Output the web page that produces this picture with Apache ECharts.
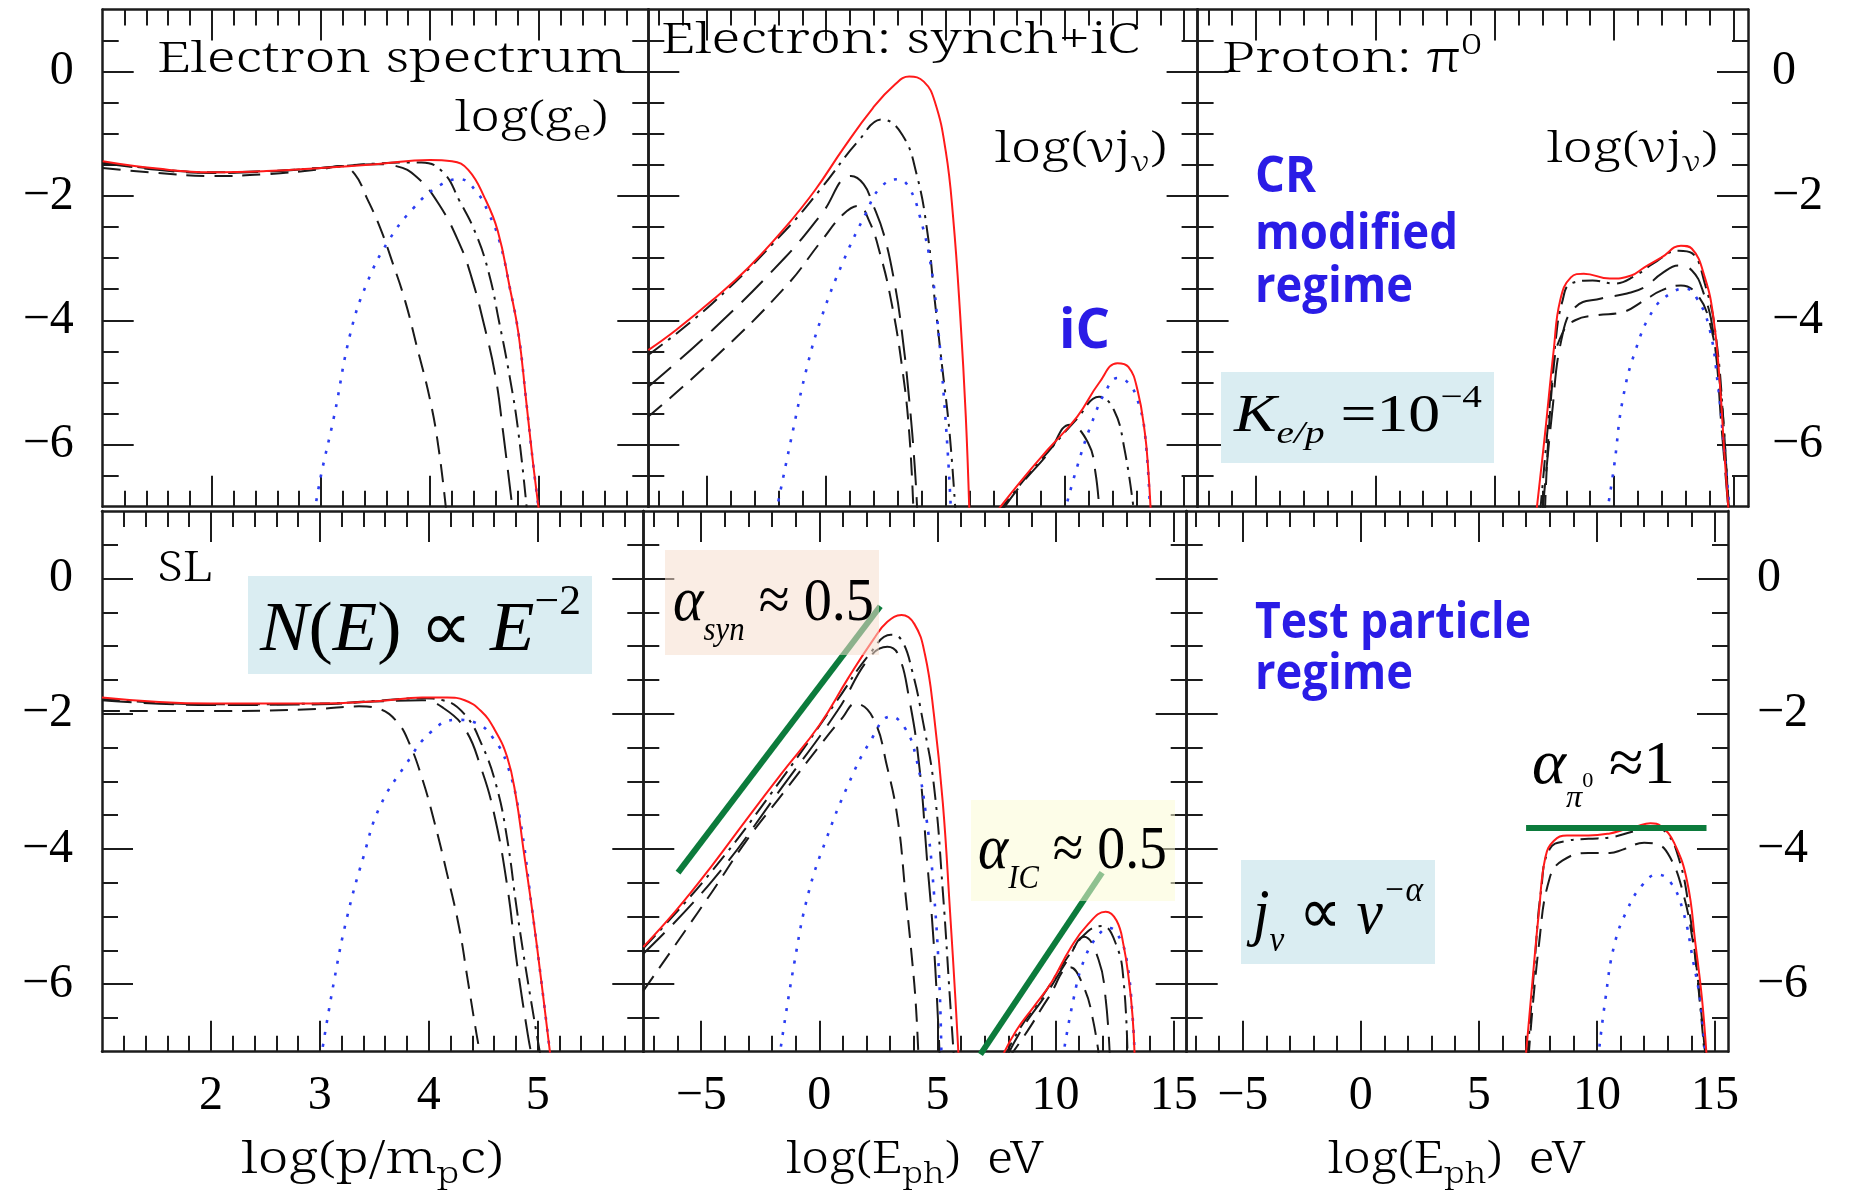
<!DOCTYPE html>
<html>
<head>
<meta charset="utf-8">
<script src="https://cdn.jsdelivr.net/npm/echarts@6/dist/echarts.min.js"></script>
<style>
html,body{margin:0;padding:0;background:#fff}
#chart{width:1852px;height:1194px}
</style>
</head>
<body>
<div id="chart"></div>
<script>
// ---------------- tick values ----------------
const tickYMajor = [0, -2, -4, -6];
const tickYMinor = [-6.5, -6, -5.5, -5, -4.5, -4, -3.5, -3, -2.5, -2, -1.5, -1, -0.5, 0, 0.5];
const tickPMajor = [2, 3, 4, 5];
const tickPMinor = [1.2, 1.4, 1.6, 1.8, 2.2, 2.4, 2.6, 2.8, 3.2, 3.4, 3.6, 3.8, 4.2, 4.4, 4.6, 4.8, 5.2, 5.4, 5.6, 5.8];
const tickEMajor = [-5, 0, 5, 10, 15];
const tickEMinor = [-7, -6, -4, -3, -2, -1, 1, 2, 3, 4, 6, 7, 8, 9, 11, 12, 13, 14];

// ---------------- CR-modified regime (top row) ----------------
// electron spectrum log(g_e) vs log(p/m_p c)
const tlTotal = [[1,-1.44],[1.5,-1.56],[2,-1.62],[2.5,-1.6],[3,-1.55],[3.5,-1.49],[4.0,-1.42],[4.2,-1.44],[4.35,-1.58],[4.5,-2.03],[4.62,-2.56],[4.73,-3.47],[4.81,-4.21],[4.88,-5.28],[4.94,-6.24],[5.0,-7.1]];
const tlDotted = [[2.94,-7.1],[3.0,-6.5],[3.12,-5.55],[3.27,-4.21],[3.42,-3.41],[3.62,-2.72],[3.85,-2.19],[4.08,-1.84],[4.27,-1.73],[4.42,-1.92],[4.54,-2.29],[4.64,-2.75],[4.73,-3.47],[4.81,-4.21],[4.88,-5.28],[4.94,-6.24],[5.0,-7.1]];
const tlDashA = [[1,-1.55],[1.5,-1.63],[2,-1.68],[2.5,-1.65],[3,-1.57],[3.19,-1.52],[3.31,-1.65],[3.42,-2.03],[3.54,-2.5],[3.65,-3.04],[3.77,-3.68],[3.88,-4.43],[4.0,-5.28],[4.08,-6.08],[4.15,-7.1]];
const tlDashB = [[1,-1.47],[1.5,-1.58],[2,-1.63],[2.5,-1.61],[3,-1.55],[3.5,-1.49],[3.69,-1.52],[3.88,-1.7],[4.08,-2.13],[4.27,-2.77],[4.38,-3.31],[4.5,-4.11],[4.6,-4.91],[4.67,-5.81],[4.76,-7.1]];
const tlDashDot = [[1,-1.46],[1.5,-1.57],[2,-1.62],[2.5,-1.6],[3,-1.55],[3.5,-1.48],[3.92,-1.46],[4.12,-1.62],[4.27,-2.08],[4.42,-2.61],[4.54,-3.25],[4.63,-4.0],[4.73,-4.91],[4.81,-5.81],[4.89,-7.1]];

// electron synchrotron + inverse Compton, log(nu j_nu) vs log(E_ph)
const tmTotal = [[-7.45,-4.48],[-6.3,-4.16],[-4.77,-3.68],[-3.25,-3.15],[-1.72,-2.51],[-0.49,-1.92],[0.73,-1.23],[1.95,-0.59],[2.87,-0.21],[3.48,-0.08],[4.09,-0.16],[4.55,-0.48],[5.01,-1.28],[5.32,-2.35],[5.62,-3.95],[5.85,-5.55],[6.0,-7.1]];
const tmDashDot = [[-7.45,-4.56],[-4.77,-3.73],[-1.72,-2.56],[-0.19,-1.87],[1.34,-1.12],[2.34,-0.77],[3.18,-1.01],[3.79,-1.65],[4.25,-2.61],[4.55,-3.68],[4.86,-4.75],[5.17,-5.81],[5.42,-7.1]];
const tmDashB = [[-7.45,-5.07],[-4.77,-4.16],[-1.72,-2.99],[-0.19,-2.29],[1.04,-1.68],[1.57,-1.81],[1.95,-2.13],[2.41,-2.61],[2.87,-3.41],[3.18,-4.21],[3.48,-5.28],[3.71,-6.35],[3.82,-7.1]];
const tmDashA = [[-7.45,-5.55],[-4.77,-4.64],[-1.72,-3.47],[-0.19,-2.72],[0.73,-2.29],[1.34,-2.16],[1.8,-2.4],[2.26,-2.93],[2.72,-3.68],[3.18,-4.75],[3.48,-5.81],[3.66,-7.1]];
const tmDotted = [[-2.1,-7.1],[-1.41,-5.81],[-0.8,-4.75],[-0.19,-3.95],[0.73,-3.04],[1.65,-2.29],[2.26,-1.87],[3.02,-1.73],[3.48,-1.87],[3.94,-2.35],[4.4,-3.15],[4.71,-4.21],[4.94,-5.28],[5.13,-6.35],[5.23,-7.1]];
const tmIcTotal = [[7.1,-7.1],[8.22,-6.56],[9.29,-6.08],[10.52,-5.55],[11.43,-5.01],[12.2,-4.69],[12.66,-4.75],[13.04,-5.12],[13.35,-5.81],[13.5,-6.45],[13.6,-7.1]];
const tmIcDashDot = [[7.2,-7.1],[8.22,-6.6],[9.29,-6.12],[10.52,-5.58],[11.43,-5.23],[12.05,-5.44],[12.5,-6.08],[12.9,-7.1]];
const tmIcDashB = [[7.3,-7.1],[8.22,-6.62],[9.29,-6.15],[10.22,-5.68],[10.97,-5.97],[11.28,-6.45],[11.45,-7.1]];
const tmIcDotted = [[9.98,-7.1],[10.52,-6.35],[11.13,-5.65],[11.74,-5.12],[12.2,-4.93],[12.66,-5.01],[13.04,-5.28],[13.35,-5.81],[13.57,-7.1]];

// proton pi0-decay emission
const trTotal = [[6.74,-7.1],[7.11,-5.81],[7.47,-4.48],[7.74,-3.68],[8.19,-3.31],[8.73,-3.25],[9.82,-3.33],[10.72,-3.28],[11.27,-3.15],[11.99,-2.99],[12.8,-2.8],[13.26,-2.85],[13.8,-3.31],[14.16,-3.95],[14.43,-5.01],[14.61,-6.08],[14.8,-7.1]];
const trDashDot = [[6.9,-7.1],[7.2,-5.81],[7.56,-4.3],[7.83,-3.7],[8.19,-3.41],[9.1,-3.36],[10.0,-3.41],[10.9,-3.28],[11.63,-3.09],[12.71,-2.88],[13.26,-2.92],[13.8,-3.41],[14.25,-4.21],[14.61,-5.81],[14.8,-7.1]];
const trDashB = [[7.0,-7.1],[7.4,-5.5],[7.8,-4.3],[8.37,-3.79],[9.46,-3.65],[10.54,-3.57],[11.27,-3.47],[11.99,-3.25],[12.71,-3.12],[13.26,-3.2],[13.71,-3.52],[14.16,-4.21],[14.52,-5.81],[14.8,-7.1]];
const trDashA = [[7.1,-7.1],[7.47,-4.75],[7.83,-4.21],[8.37,-4.0],[9.28,-3.92],[10.36,-3.87],[11.27,-3.68],[11.99,-3.52],[12.8,-3.44],[13.44,-3.57],[13.98,-4.0],[14.43,-5.01],[14.7,-6.35],[14.82,-7.1]];
const trDotted = [[9.7,-7.1],[10.0,-6.35],[10.36,-5.28],[10.9,-4.48],[11.63,-3.84],[12.35,-3.57],[12.98,-3.49],[13.44,-3.63],[13.98,-4.11],[14.34,-5.01],[14.61,-6.08],[14.85,-7.1]];

// ---------------- test-particle regime (bottom row) ----------------
const blTotal = [[1,-1.76],[2,-1.85],[2.98,-1.85],[3.55,-1.81],[3.94,-1.76],[4.17,-1.76],[4.33,-1.8],[4.48,-1.96],[4.6,-2.22],[4.72,-2.64],[4.8,-3.22],[4.87,-4.01],[4.95,-4.91],[5.03,-5.91],[5.12,-7.1]];
const blDotted = [[3.01,-7.1],[3.13,-5.96],[3.25,-5.01],[3.4,-4.12],[3.55,-3.38],[3.79,-2.75],[4.02,-2.27],[4.25,-2.09],[4.44,-2.14],[4.6,-2.38],[4.72,-2.75],[4.83,-3.48],[4.95,-4.91],[5.03,-5.91],[5.12,-7.1]];
const blDashA = [[1,-1.96],[2,-1.96],[2.98,-1.93],[3.36,-1.89],[3.55,-1.93],[3.71,-2.12],[3.82,-2.43],[3.94,-2.96],[4.05,-3.59],[4.17,-4.38],[4.28,-5.17],[4.36,-5.96],[4.44,-6.75],[4.48,-7.1]];
const blDashB = [[1,-1.8],[2,-1.87],[3,-1.86],[3.5,-1.82],[3.94,-1.8],[4.13,-1.91],[4.33,-2.22],[4.48,-2.8],[4.6,-3.48],[4.72,-4.54],[4.81,-5.69],[4.91,-6.75],[4.95,-7.1]];
const blDashDot = [[1,-1.78],[2,-1.86],[3,-1.85],[3.5,-1.81],[3.94,-1.77],[4.13,-1.8],[4.33,-2.01],[4.48,-2.43],[4.62,-3.06],[4.72,-3.85],[4.81,-4.91],[4.91,-5.96],[5.03,-7.1]];

const bmTotal = [[-7.45,-5.45],[-6.06,-4.91],[-4.55,-4.25],[-3.03,-3.54],[-1.52,-2.85],[0,-2.17],[1.21,-1.48],[2.27,-0.91],[2.88,-0.64],[3.48,-0.54],[4.02,-0.67],[4.47,-1.12],[4.85,-2.01],[5.23,-3.33],[5.53,-4.91],[5.76,-6.22],[5.9,-7.1]];
const bmDashDot = [[-7.45,-5.47],[-4.55,-4.33],[-1.52,-2.93],[0.76,-1.8],[2.12,-1.12],[3.03,-0.83],[3.48,-0.91],[3.94,-1.38],[4.39,-2.12],[4.85,-3.06],[5.23,-4.64],[5.53,-6.22],[5.7,-7.1]];
const bmDashB = [[-7.45,-5.55],[-4.55,-4.48],[-1.52,-3.06],[0.76,-1.96],[2.12,-1.17],[2.88,-1.01],[3.33,-1.12],[3.79,-1.75],[4.24,-2.8],[4.55,-4.12],[4.85,-5.43],[5.1,-7.1]];
const bmDashA = [[-7.45,-6.1],[-4.55,-4.64],[-3.03,-3.85],[-1.52,-3.17],[0,-2.48],[1.0,-2.05],[1.52,-1.85],[2.27,-2.06],[2.88,-2.8],[3.33,-3.59],[3.64,-4.64],[3.94,-5.69],[4.09,-6.33],[4.2,-7.1]];
const bmDotted = [[-1.7,-7.1],[-1.06,-5.69],[-0.45,-4.64],[0.3,-3.85],[1.21,-3.06],[2.12,-2.43],[3.03,-2.04],[3.64,-2.22],[4.09,-2.64],[4.55,-3.59],[4.85,-4.64],[5.08,-5.96],[5.17,-7.1]];
const bmIcTotal = [[7.7,-7.1],[8.33,-6.69],[9.09,-6.33],[9.85,-5.96],[10.61,-5.48],[11.36,-5.12],[12.12,-4.93],[12.58,-5.06],[12.88,-5.43],[13.11,-5.96],[13.26,-6.48],[13.35,-7.1]];
const bmIcDashDot = [[7.8,-7.1],[8.5,-6.65],[9.5,-6.15],[10.61,-5.55],[11.36,-5.22],[11.97,-5.14],[12.58,-5.43],[12.88,-5.96],[13.05,-7.1]];
const bmIcDashB = [[7.9,-7.1],[8.6,-6.65],[9.6,-6.15],[10.5,-5.65],[11.21,-5.3],[11.82,-5.64],[12.12,-6.22],[12.3,-7.1]];
const bmIcDashA = [[8.0,-7.1],[8.8,-6.7],[9.7,-6.2],[10.61,-5.75],[11.21,-6.06],[11.59,-6.54],[11.85,-7.1]];
const bmIcDotted = [[10.3,-7.1],[10.76,-6.22],[11.21,-5.64],[11.82,-5.27],[12.27,-5.17],[12.73,-5.33],[13.03,-5.69],[13.26,-6.48],[13.35,-7.1]];

const brTotal = [[6.98,-7.1],[7.27,-5.96],[7.55,-4.91],[7.82,-4.12],[8.18,-3.88],[8.73,-3.8],[9.64,-3.8],[10.55,-3.77],[11.09,-3.72],[11.64,-3.67],[12.27,-3.62],[12.73,-3.67],[13.27,-3.91],[13.82,-4.48],[14.18,-5.43],[14.45,-6.22],[14.65,-7.1]];
const brDashDot = [[7.05,-7.1],[7.36,-5.7],[7.64,-4.6],[8.0,-4.0],[8.73,-3.88],[9.64,-3.85],[10.55,-3.83],[11.45,-3.75],[12.27,-3.67],[12.91,-3.75],[13.45,-4.12],[13.91,-4.91],[14.27,-5.96],[14.57,-7.1]];
const brDashA = [[7.1,-7.1],[7.55,-5.4],[8.0,-4.43],[8.55,-4.17],[9.64,-4.06],[10.55,-4.06],[11.09,-4.01],[12.0,-3.91],[12.55,-3.93],[13.09,-4.12],[13.64,-4.64],[14.09,-5.43],[14.36,-6.22],[14.6,-7.1]];
const brDotted = [[10.05,-7.1],[10.36,-6.22],[10.73,-5.43],[11.27,-4.91],[11.91,-4.54],[12.55,-4.38],[13.09,-4.48],[13.64,-4.91],[14.09,-5.69],[14.36,-6.22],[14.6,-7.1]];

// spectral-index guide lines
const synSlope = [[-5.98,-4.35],[2.58,-0.41]];
const icSlope = [[6.82,-7.04],[11.97,-4.35]];
const pionLevel = [[7.0,-3.69],[14.64,-3.69]];

// ---------------- styling ----------------
const SERIF = '"Liberation Serif"';
const PLOTFONT = '"Noto Serif"';
const SANS = '"Open Sans"';
const FRAME = '#1c1c1c';
const BLUE = '#2a1ce6';
const STY = {
  total:   {color: '#ff1a1a', width: 2, type: 'solid'},
  dotted:  {color: '#2b3df2', width: 2.6, type: [3, 9]},
  dashA:   {color: '#1a1a1a', width: 2, type: [18, 10]},
  dashB:   {color: '#1a1a1a', width: 2, type: [30, 12]},
  dashDot: {color: '#1a1a1a', width: 2, type: [18, 7, 3, 7]},
  guide:   {color: '#0c7b3c', width: 6, type: 'solid'}
};

// panel frames (pixel layout) and data ranges
const panels = [
  {left: 102.7, top: 9.5, width: 545.6, height: 497.2, x: [1, 6], xm: tickPMajor, xn: tickPMinor, xl: false, yl: 'left'},
  {left: 648.3, top: 9.5, width: 549.3, height: 497.2, x: [-7.45, 15.56], xm: tickEMajor, xn: tickEMinor, xl: false, yl: null},
  {left: 1197.6, top: 9.5, width: 550.4, height: 497.2, x: [-7.45, 15.61], xm: tickEMajor, xn: tickEMinor, xl: false, yl: 'right', ym: 24},
  {left: 102, top: 511, width: 541.3, height: 540.7, x: [1, 5.97], xm: tickPMajor, xn: tickPMinor, xl: true, yl: 'left'},
  {left: 643.3, top: 511, width: 543.4, height: 540.7, x: [-7.45, 15.55], xm: tickEMajor, xn: tickEMinor, xl: true, yl: null},
  {left: 1186.7, top: 511, width: 541.3, height: 540.7, x: [-7.37, 15.55], xm: tickEMajor, xn: tickEMinor, xl: true, yl: 'right', ym: 29}
];

const fmt = v => (v < 0 ? '\u2212' + (-v) : String(v));
const tickLine = {color: FRAME, width: 2};
const labelStyle = {fontSize: 48, fontFamily: SERIF, color: '#000', formatter: fmt};

const grids = [], xAxes = [], yAxes = [];
panels.forEach((p, g) => {
  grids.push({left: p.left, top: p.top, width: p.width, height: p.height, containLabel: false, outerBoundsMode: 'none'});
  const xb = {gridIndex: g, type: 'value', min: p.x[0], max: p.x[1], splitLine: {show: false}};
  ['bottom', 'top'].forEach(pos => {
    xAxes.push(Object.assign({}, xb, {position: pos,
      axisLine: {show: true, onZero: false, lineStyle: {color: FRAME, width: 2.5}},
      axisTick: {show: true, inside: true, length: 31, customValues: p.xm, lineStyle: tickLine},
      axisLabel: (pos === 'bottom' && p.xl) ? Object.assign({show: true, customValues: p.xm, margin: 21}, labelStyle) : {show: false}}));
    xAxes.push(Object.assign({}, xb, {position: pos,
      axisLine: {show: false, onZero: false},
      axisTick: {show: true, inside: true, length: 16, customValues: p.xn, lineStyle: tickLine},
      axisLabel: {show: false}}));
  });
  const yb = {gridIndex: g, type: 'value', min: -7, max: 1, splitLine: {show: false}};
  ['left', 'right'].forEach(pos => {
    yAxes.push(Object.assign({}, yb, {position: pos,
      axisLine: {show: true, onZero: false, lineStyle: {color: FRAME, width: 2.5}},
      axisTick: {show: true, inside: true, length: 31, customValues: tickYMajor, lineStyle: tickLine},
      axisLabel: (pos === p.yl) ? Object.assign({show: true, customValues: tickYMajor, margin: pos === 'left' ? 29 : p.ym}, labelStyle) : {show: false}}));
    yAxes.push(Object.assign({}, yb, {position: pos,
      axisLine: {show: false, onZero: false},
      axisTick: {show: true, inside: true, length: 16, customValues: tickYMinor, lineStyle: tickLine},
      axisLabel: {show: false}}));
  });
});

function curve(g, data, kind, extra) {
  return Object.assign({
    type: 'line', xAxisIndex: g * 4, yAxisIndex: g * 4, data: data,
    showSymbol: false, symbol: 'none', smooth: 0.45,
    lineStyle: STY[kind], silent: true, animation: false,
    z: kind === 'total' ? 5 : (kind === 'dotted' ? 4 : 3)
  }, extra || {});
}

const series = [
  curve(0, tlDashA, 'dashA'), curve(0, tlDashB, 'dashB'), curve(0, tlDashDot, 'dashDot'), curve(0, tlDotted, 'dotted'), curve(0, tlTotal, 'total'),
  curve(1, tmDashA, 'dashA'), curve(1, tmDashB, 'dashB'), curve(1, tmDashDot, 'dashDot'), curve(1, tmDotted, 'dotted'), curve(1, tmTotal, 'total'),
  curve(1, tmIcDashB, 'dashB'), curve(1, tmIcDashDot, 'dashDot'), curve(1, tmIcDotted, 'dotted'), curve(1, tmIcTotal, 'total'),
  curve(2, trDashA, 'dashA'), curve(2, trDashB, 'dashB'), curve(2, trDashDot, 'dashDot'), curve(2, trDotted, 'dotted'), curve(2, trTotal, 'total'),
  curve(3, blDashA, 'dashA'), curve(3, blDashB, 'dashB'), curve(3, blDashDot, 'dashDot'), curve(3, blDotted, 'dotted'), curve(3, blTotal, 'total'),
  curve(4, bmDashA, 'dashA'), curve(4, bmDashB, 'dashB'), curve(4, bmDashDot, 'dashDot'), curve(4, bmDotted, 'dotted'), curve(4, bmTotal, 'total'),
  curve(4, bmIcDashA, 'dashA'), curve(4, bmIcDashB, 'dashB'), curve(4, bmIcDashDot, 'dashDot'), curve(4, bmIcDotted, 'dotted'), curve(4, bmIcTotal, 'total'),
  curve(5, brDashA, 'dashA'), curve(5, brDashDot, 'dashDot'), curve(5, brDotted, 'dotted'), curve(5, brTotal, 'total'),
  curve(4, synSlope, 'guide', {smooth: false, z: 8}),
  curve(4, icSlope, 'guide', {smooth: false, z: 8, clip: false}),
  curve(5, pionLevel, 'guide', {smooth: false, z: 8})
];

// ---------------- text runs (annotations & axis titles) ----------------
const mctx = document.createElement('canvas').getContext('2d');
function fontStr(p) {
  return (p.italic ? 'italic ' : '') + (p.bold ? 'bold ' : (p.weight ? p.weight + ' ' : '')) + p.size + 'px ' + (p.family || SERIF);
}
// lays pieces left to right on a common baseline; optional horizontal fit to a width
function run(pieces, x, baseline, opt) {
  opt = opt || {};
  let cx = 0;
  const kids = [];
  pieces.forEach(p => {
    const f = fontStr(p);
    mctx.font = f;
    mctx.textBaseline = 'middle';
    const w = mctx.measureText(p.t).width;
    const off = mctx.measureText('H').actualBoundingBoxDescent;
    cx += (p.dx || 0);
    kids.push({type: 'text', x: cx, y: (p.dy || 0) - off, z: opt.z || 20,
      style: {text: p.t, font: f, fill: p.color || opt.color || '#000',
        align: 'left', verticalAlign: 'middle', textAlign: 'left', textVerticalAlign: 'middle'}});
    cx += w;
  });
  const sx = opt.width ? opt.width / cx : 1;
  const fullW = cx * sx;
  const gx = opt.center ? x - fullW / 2 : x;
  return {type: 'group', x: gx, y: baseline, scaleX: sx, z: opt.z || 20, children: kids};
}
function box(x, y, w, h, fill, z) {
  return {type: 'rect', shape: {x: x, y: y, width: w, height: h}, style: {fill: fill}, z: z || 15};
}
const blueText = (t, x, y, w) => run([{t: t, size: 50, bold: true, family: SANS, color: BLUE}], x, y, {width: w});
// plot-style lettering (light serif)
const P = (t, size, dy) => ({t: t, size: size, dy: dy || 0, family: PLOTFONT, weight: 300});

const graphics = [
  // top row labels
  run([P('Electron spectrum', 42)], 157, 72, {width: 469}),
  run([P('log(g', 42), P('e', 28, 9), P(')', 42)], 455, 131, {width: 153}),
  run([P('Electron: synch+iC', 42)], 661, 53, {width: 479}),
  run([P('log(\u03bdj', 42), P('\u03bd', 28, 9), P(')', 42)], 995, 162, {width: 172}),
  run([{t: 'iC', size: 56, bold: true, family: SANS, color: BLUE}], 1059, 348, {width: 51}),
  run([P('Proton: \u03c0', 42), P('0', 28, -18)], 1222, 72, {width: 260}),
  run([P('log(\u03bdj', 42), P('\u03bd', 28, 9), P(')', 42)], 1547, 162, {width: 171}),
  blueText('CR', 1255, 192, 61),
  blueText('modified', 1255, 249, 203),
  blueText('regime', 1255, 302, 158),
  box(1221, 372, 273, 91, '#daedf2'),
  run([{t: 'K', size: 52, italic: true}, {t: 'e/p', size: 32, italic: true, dy: 12},
       {t: ' =10', size: 52}, {t: '\u22124', size: 32, dy: -24}], 1234, 431, {width: 248}),
  // bottom row labels
  run([P('SL', 42)], 157, 581, {width: 56}),
  box(248, 576, 344, 98, '#daedf2'),
  run([{t: 'N', size: 70, italic: true}, {t: '(', size: 70}, {t: 'E', size: 70, italic: true}, {t: ')', size: 70},
       {t: ' \u221d ', size: 70}, {t: 'E', size: 70, italic: true}, {t: '\u22122', size: 42, dy: -36}], 260, 650, {width: 321}),
  box(665, 550, 214, 105, 'rgba(246,222,206,0.55)'),
  run([{t: '\u03b1', size: 64, italic: true}, {t: 'syn', size: 34, italic: true, dy: 20}, {t: ' \u2248 0.5', size: 62}], 673, 620, {width: 201}),
  box(971, 800, 204, 101, 'rgba(251,251,213,0.55)'),
  run([{t: '\u03b1', size: 64, italic: true}, {t: 'IC', size: 34, italic: true, dy: 20}, {t: ' \u2248 0.5', size: 62}], 978, 868, {width: 189}),
  blueText('Test particle', 1255, 638, 276),
  blueText('regime', 1255, 689, 158),
  run([{t: '\u03b1', size: 64, italic: true}, {t: '\u03c0', size: 32, italic: true, dy: 24}, {t: '0', size: 22, dy: 4},
       {t: ' \u22481', size: 62}], 1532, 783, {width: 143}),
  box(1241, 860, 194, 104, '#daedf2'),
  run([{t: 'j', size: 64, italic: true}, {t: '\u03bd', size: 36, italic: true, dy: 18}, {t: ' \u221d ', size: 64},
       {t: '\u03bd', size: 64, italic: true}, {t: '\u2212\u03b1', size: 36, italic: true, dy: -32}], 1253, 933, {width: 170}),
  // axis titles
  run([P('log(p/m', 44), P('p', 30, 10), P('c)', 44)], 372.5, 1173, {width: 262, center: true}),
  run([P('log(E', 44), P('ph', 30, 10), P(')  eV', 44)], 915, 1173, {width: 257, center: true}),
  run([P('log(E', 44), P('ph', 30, 10), P(')  eV', 44)], 1456.7, 1173, {width: 257, center: true})
];

const chart = echarts.init(document.getElementById('chart'), null, {renderer: 'canvas'});
chart.setOption({
  animation: false,
  backgroundColor: '#ffffff',
  grid: grids,
  xAxis: xAxes,
  yAxis: yAxes,
  series: series,
  graphic: {elements: graphics}
});
</script>
</body>
</html>
